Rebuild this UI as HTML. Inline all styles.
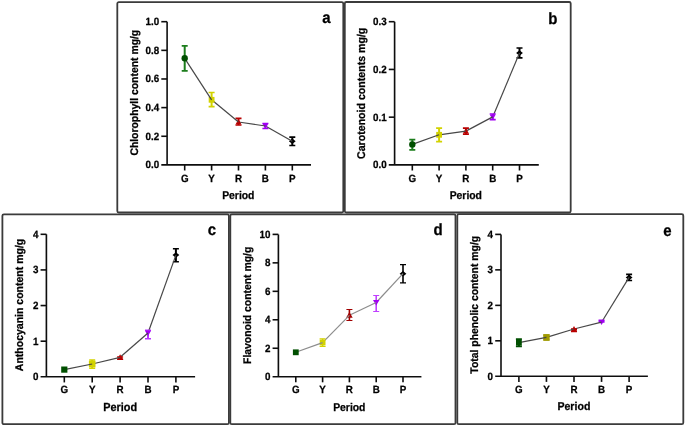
<!DOCTYPE html>
<html><head><meta charset="utf-8"><style>
html,body{margin:0;padding:0;background:#fff;}
svg{display:block;will-change:transform;}
text{font-family:"Liberation Sans", sans-serif;font-weight:bold;fill:#000;text-rendering:geometricPrecision;stroke:#000;stroke-width:0.25px;}
</style></head><body>
<svg width="685" height="427" viewBox="0 0 685 427">
<defs><filter id="bl" filterUnits="userSpaceOnUse" x="0" y="0" width="685" height="427"><feGaussianBlur stdDeviation="0.35"/></filter></defs>
<rect width="685" height="427" fill="#fff"/>
<g filter="url(#bl)">
<rect x="117.3" y="2.2" width="226.0" height="210.3" rx="1.5" fill="none" stroke="#3b3b3b" stroke-width="1.8"/>
<rect x="344.8" y="2.0" width="225.9" height="210.5" rx="1.5" fill="none" stroke="#3b3b3b" stroke-width="1.8"/>
<rect x="2.4" y="214.3" width="226.5" height="209.9" rx="1.5" fill="none" stroke="#3b3b3b" stroke-width="1.8"/>
<rect x="230.3" y="214.3" width="225.2" height="209.9" rx="1.5" fill="none" stroke="#3b3b3b" stroke-width="1.8"/>
<rect x="457.3" y="214.2" width="226.0" height="210.0" rx="1.5" fill="none" stroke="#3b3b3b" stroke-width="1.8"/>
<path d="M167.1 21.7 V164.9 M161.29999999999998 164.9 H311.0" stroke="#111" stroke-width="1.6" fill="none"/>
<text transform="translate(159.1,168.4) scale(1,1.07)" x="0" y="0" font-size="9.8" text-anchor="end" >0.0</text>
<path d="M161.29999999999998 136.26 H167.1" stroke="#111" stroke-width="1.6"/>
<text transform="translate(159.1,139.76) scale(1,1.07)" x="0" y="0" font-size="9.8" text-anchor="end" >0.2</text>
<path d="M161.29999999999998 107.62 H167.1" stroke="#111" stroke-width="1.6"/>
<text transform="translate(159.1,111.12) scale(1,1.07)" x="0" y="0" font-size="9.8" text-anchor="end" >0.4</text>
<path d="M161.29999999999998 78.98 H167.1" stroke="#111" stroke-width="1.6"/>
<text transform="translate(159.1,82.48) scale(1,1.07)" x="0" y="0" font-size="9.8" text-anchor="end" >0.6</text>
<path d="M161.29999999999998 50.33999999999999 H167.1" stroke="#111" stroke-width="1.6"/>
<text transform="translate(159.1,53.83999999999999) scale(1,1.07)" x="0" y="0" font-size="9.8" text-anchor="end" >0.8</text>
<path d="M161.29999999999998 21.69999999999999 H167.1" stroke="#111" stroke-width="1.6"/>
<text transform="translate(159.1,25.19999999999999) scale(1,1.07)" x="0" y="0" font-size="9.8" text-anchor="end" >1.0</text>
<path d="M184.7 164.9 V170.5" stroke="#111" stroke-width="1.6"/>
<text transform="translate(184.7,181.5) scale(1,1.07)" x="0" y="0" font-size="9.8" text-anchor="middle" >G</text>
<path d="M211.6 164.9 V170.5" stroke="#111" stroke-width="1.6"/>
<text transform="translate(211.6,181.5) scale(1,1.07)" x="0" y="0" font-size="9.8" text-anchor="middle" >Y</text>
<path d="M238.5 164.9 V170.5" stroke="#111" stroke-width="1.6"/>
<text transform="translate(238.5,181.5) scale(1,1.07)" x="0" y="0" font-size="9.8" text-anchor="middle" >R</text>
<path d="M265.4 164.9 V170.5" stroke="#111" stroke-width="1.6"/>
<text transform="translate(265.4,181.5) scale(1,1.07)" x="0" y="0" font-size="9.8" text-anchor="middle" >B</text>
<path d="M292.29999999999995 164.9 V170.5" stroke="#111" stroke-width="1.6"/>
<text transform="translate(292.29999999999995,181.5) scale(1,1.07)" x="0" y="0" font-size="9.8" text-anchor="middle" >P</text>
<text transform="translate(238.3,199.2) scale(1,1.07)" x="0" y="0" font-size="10.4" text-anchor="middle" >Period</text>
<text transform="translate(138.0,92.7) rotate(-90) scale(1,1.06)" x="0" y="0" font-size="10.4" text-anchor="middle">Chlorophyll content mg/g</text>
<text transform="translate(326.5,23.3) scale(1,1.08)" x="0" y="0" font-size="15" text-anchor="middle" >a</text>
<path d="M292.29999999999995 137.1 V145.5" stroke="#000000" stroke-width="2.0"/>
<path d="M289.29999999999995 137.1 H295.29999999999995 M289.29999999999995 145.5 H295.29999999999995" stroke="#000000" stroke-width="1.7"/>
<path d="M292.30 138.55 L295.69 141.30 L292.30 144.06 L288.91 141.30Z" fill="#000000"/>
<path d="M265.40 126.0 L292.30 141.3" stroke="#474747" stroke-width="1.2" stroke-linecap="butt"/>
<path d="M265.4 123.5 V128.5" stroke="#a100f2" stroke-width="2.0"/>
<path d="M262.4 123.5 H268.4 M262.4 128.5 H268.4" stroke="#a100f2" stroke-width="1.7"/>
<path d="M265.40 128.81 L268.30 123.80 L262.50 123.80Z" fill="#a100f2"/>
<path d="M238.50 122.0 L265.40 126.0" stroke="#474747" stroke-width="1.2" stroke-linecap="butt"/>
<path d="M238.5 118.4 V125.0" stroke="#b80000" stroke-width="2.0"/>
<path d="M235.5 118.4 H241.5 M235.5 125.0 H241.5" stroke="#b80000" stroke-width="1.7"/>
<path d="M238.50 119.19 L241.40 124.20 L235.60 124.20Z" fill="#b80000"/>
<path d="M211.60 99.8 L238.50 122.0" stroke="#474747" stroke-width="1.2" stroke-linecap="butt"/>
<path d="M211.6 92.5 V106.7" stroke="#d2d200" stroke-width="2.0"/>
<path d="M208.6 92.5 H214.6 M208.6 106.7 H214.6" stroke="#d2d200" stroke-width="1.7"/>
<rect x="208.70" y="96.90" width="5.80" height="5.80" fill="#d2d200"/>
<path d="M184.70 58.3 L211.60 99.8" stroke="#474747" stroke-width="1.2" stroke-linecap="butt"/>
<path d="M184.7 45.9 V70.8" stroke="#1e7d1e" stroke-width="2.0"/>
<path d="M181.7 45.9 H187.7 M181.7 70.8 H187.7" stroke="#1e7d1e" stroke-width="1.7"/>
<circle cx="184.7" cy="58.3" r="3.19" fill="#004f00"/>
<path d="M394.6 21.7 V164.9 M388.8 164.9 H538.8" stroke="#111" stroke-width="1.6" fill="none"/>
<text transform="translate(386.6,168.4) scale(1,1.07)" x="0" y="0" font-size="9.8" text-anchor="end" >0.0</text>
<path d="M388.8 117.16666666666666 H394.6" stroke="#111" stroke-width="1.6"/>
<text transform="translate(386.6,120.66666666666666) scale(1,1.07)" x="0" y="0" font-size="9.8" text-anchor="end" >0.1</text>
<path d="M388.8 69.43333333333332 H394.6" stroke="#111" stroke-width="1.6"/>
<text transform="translate(386.6,72.93333333333332) scale(1,1.07)" x="0" y="0" font-size="9.8" text-anchor="end" >0.2</text>
<path d="M388.8 21.69999999999999 H394.6" stroke="#111" stroke-width="1.6"/>
<text transform="translate(386.6,25.19999999999999) scale(1,1.07)" x="0" y="0" font-size="9.8" text-anchor="end" >0.3</text>
<path d="M412.3 164.9 V170.5" stroke="#111" stroke-width="1.6"/>
<text transform="translate(412.3,181.5) scale(1,1.07)" x="0" y="0" font-size="9.8" text-anchor="middle" >G</text>
<path d="M439.1 164.9 V170.5" stroke="#111" stroke-width="1.6"/>
<text transform="translate(439.1,181.5) scale(1,1.07)" x="0" y="0" font-size="9.8" text-anchor="middle" >Y</text>
<path d="M465.90000000000003 164.9 V170.5" stroke="#111" stroke-width="1.6"/>
<text transform="translate(465.90000000000003,181.5) scale(1,1.07)" x="0" y="0" font-size="9.8" text-anchor="middle" >R</text>
<path d="M492.70000000000005 164.9 V170.5" stroke="#111" stroke-width="1.6"/>
<text transform="translate(492.70000000000005,181.5) scale(1,1.07)" x="0" y="0" font-size="9.8" text-anchor="middle" >B</text>
<path d="M519.5 164.9 V170.5" stroke="#111" stroke-width="1.6"/>
<text transform="translate(519.5,181.5) scale(1,1.07)" x="0" y="0" font-size="9.8" text-anchor="middle" >P</text>
<text transform="translate(465.8,199.2) scale(1,1.07)" x="0" y="0" font-size="10.4" text-anchor="middle" >Period</text>
<text transform="translate(364.8,93.3) rotate(-90) scale(1,1.06)" x="0" y="0" font-size="10.6" text-anchor="middle">Carotenoid contents mg/g</text>
<text transform="translate(552.8,23.6) scale(1,1.08)" x="0" y="0" font-size="15" text-anchor="middle" >b</text>
<path d="M519.5 48.0 V57.8" stroke="#000000" stroke-width="2.0"/>
<path d="M516.5 48.0 H522.5 M516.5 57.8 H522.5" stroke="#000000" stroke-width="1.7"/>
<path d="M519.50 50.34 L522.89 53.10 L519.50 55.86 L516.11 53.10Z" fill="#000000"/>
<path d="M492.70 116.9 L519.50 53.1" stroke="#474747" stroke-width="1.2" stroke-linecap="butt"/>
<path d="M492.70000000000005 114.0 V119.6" stroke="#a100f2" stroke-width="2.0"/>
<path d="M489.70000000000005 114.0 H495.70000000000005 M489.70000000000005 119.6 H495.70000000000005" stroke="#a100f2" stroke-width="1.7"/>
<path d="M492.70 119.71 L495.60 114.70 L489.80 114.70Z" fill="#a100f2"/>
<path d="M465.90 131.1 L492.70 116.9" stroke="#474747" stroke-width="1.2" stroke-linecap="butt"/>
<path d="M465.90000000000003 128.2 V134.1" stroke="#b80000" stroke-width="2.0"/>
<path d="M462.90000000000003 128.2 H468.90000000000003 M462.90000000000003 134.1 H468.90000000000003" stroke="#b80000" stroke-width="1.7"/>
<path d="M465.90 128.29 L468.80 133.30 L463.00 133.30Z" fill="#b80000"/>
<path d="M439.10 134.8 L465.90 131.1" stroke="#474747" stroke-width="1.2" stroke-linecap="butt"/>
<path d="M439.1 128.2 V141.7" stroke="#d2d200" stroke-width="2.0"/>
<path d="M436.1 128.2 H442.1 M436.1 141.7 H442.1" stroke="#d2d200" stroke-width="1.7"/>
<rect x="436.20" y="131.90" width="5.80" height="5.80" fill="#d2d200"/>
<path d="M412.30 144.4 L439.10 134.8" stroke="#474747" stroke-width="1.2" stroke-linecap="butt"/>
<path d="M412.3 139.7 V149.9" stroke="#1e7d1e" stroke-width="2.0"/>
<path d="M409.3 139.7 H415.3 M409.3 149.9 H415.3" stroke="#1e7d1e" stroke-width="1.7"/>
<circle cx="412.3" cy="144.4" r="3.19" fill="#004f00"/>
<path d="M46.4 234.3 V376.8 M40.6 376.8 H195.1" stroke="#111" stroke-width="1.6" fill="none"/>
<text transform="translate(38.4,380.3) scale(1,1.07)" x="0" y="0" font-size="9.8" text-anchor="end" >0</text>
<path d="M40.6 341.175 H46.4" stroke="#111" stroke-width="1.6"/>
<text transform="translate(38.4,344.675) scale(1,1.07)" x="0" y="0" font-size="9.8" text-anchor="end" >1</text>
<path d="M40.6 305.55 H46.4" stroke="#111" stroke-width="1.6"/>
<text transform="translate(38.4,309.05) scale(1,1.07)" x="0" y="0" font-size="9.8" text-anchor="end" >2</text>
<path d="M40.6 269.925 H46.4" stroke="#111" stroke-width="1.6"/>
<text transform="translate(38.4,273.425) scale(1,1.07)" x="0" y="0" font-size="9.8" text-anchor="end" >3</text>
<path d="M40.6 234.3 H46.4" stroke="#111" stroke-width="1.6"/>
<text transform="translate(38.4,237.8) scale(1,1.07)" x="0" y="0" font-size="9.8" text-anchor="end" >4</text>
<path d="M64.3 376.8 V382.40000000000003" stroke="#111" stroke-width="1.6"/>
<text transform="translate(64.3,393.40000000000003) scale(1,1.07)" x="0" y="0" font-size="9.8" text-anchor="middle" >G</text>
<path d="M92.19999999999999 376.8 V382.40000000000003" stroke="#111" stroke-width="1.6"/>
<text transform="translate(92.19999999999999,393.40000000000003) scale(1,1.07)" x="0" y="0" font-size="9.8" text-anchor="middle" >Y</text>
<path d="M120.1 376.8 V382.40000000000003" stroke="#111" stroke-width="1.6"/>
<text transform="translate(120.1,393.40000000000003) scale(1,1.07)" x="0" y="0" font-size="9.8" text-anchor="middle" >R</text>
<path d="M148.0 376.8 V382.40000000000003" stroke="#111" stroke-width="1.6"/>
<text transform="translate(148.0,393.40000000000003) scale(1,1.07)" x="0" y="0" font-size="9.8" text-anchor="middle" >B</text>
<path d="M175.89999999999998 376.8 V382.40000000000003" stroke="#111" stroke-width="1.6"/>
<text transform="translate(175.89999999999998,393.40000000000003) scale(1,1.07)" x="0" y="0" font-size="9.8" text-anchor="middle" >P</text>
<text transform="translate(120.2,410.8) scale(1,1.07)" x="0" y="0" font-size="10.9" text-anchor="middle" >Period</text>
<text transform="translate(23.1,304.95) rotate(-90) scale(1,1.06)" x="0" y="0" font-size="10.5" text-anchor="middle">Anthocyanin content mg/g</text>
<text transform="translate(211.9,234.6) scale(1,1.08)" x="0" y="0" font-size="15" text-anchor="middle" >c</text>
<path d="M175.89999999999998 248.8 V261.8" stroke="#000000" stroke-width="2.0"/>
<path d="M172.89999999999998 248.8 H178.89999999999998 M172.89999999999998 261.8 H178.89999999999998" stroke="#000000" stroke-width="1.4"/>
<path d="M175.90 252.34 L179.29 255.10 L175.90 257.86 L172.51 255.10Z" fill="#000000"/>
<path d="M148.00 333.0 L175.90 255.1" stroke="#474747" stroke-width="1.2" stroke-linecap="butt"/>
<path d="M148.0 330.2 V338.7" stroke="#b838ff" stroke-width="2.0"/>
<path d="M145.0 330.2 H151.0 M145.0 338.7 H151.0" stroke="#b838ff" stroke-width="1.4"/>
<path d="M148.00 336.10 L151.20 330.57 L144.80 330.57Z" fill="#a100f2"/>
<path d="M120.10 357.3 L148.00 333.0" stroke="#474747" stroke-width="1.2" stroke-linecap="butt"/>
<path d="M120.1 357.0 V359.3" stroke="#b80000" stroke-width="2.0"/>
<path d="M117.1 357.0 H123.1 M117.1 359.3 H123.1" stroke="#b80000" stroke-width="1.4"/>
<path d="M120.10 354.20 L123.30 359.73 L116.90 359.73Z" fill="#b80000"/>
<path d="M92.20 364.0 L120.10 357.3" stroke="#474747" stroke-width="1.2" stroke-linecap="butt"/>
<path d="M92.19999999999999 360.0 V368.2" stroke="#d2d200" stroke-width="2.0"/>
<path d="M89.19999999999999 360.0 H95.19999999999999 M89.19999999999999 368.2 H95.19999999999999" stroke="#d2d200" stroke-width="1.4"/>
<rect x="88.90" y="360.70" width="6.60" height="6.60" fill="#d2d200"/>
<path d="M64.30 369.6 L92.20 364.0" stroke="#474747" stroke-width="1.2" stroke-linecap="butt"/>
<rect x="61.20" y="366.50" width="6.20" height="6.20" fill="#004f00"/>
<path d="M278.4 234.4 V376.7 M272.59999999999997 376.7 H421.4" stroke="#111" stroke-width="1.6" fill="none"/>
<text transform="translate(270.4,380.2) scale(1,1.07)" x="0" y="0" font-size="9.8" text-anchor="end" >0</text>
<path d="M272.59999999999997 348.24 H278.4" stroke="#111" stroke-width="1.6"/>
<text transform="translate(270.4,351.74) scale(1,1.07)" x="0" y="0" font-size="9.8" text-anchor="end" >2</text>
<path d="M272.59999999999997 319.78 H278.4" stroke="#111" stroke-width="1.6"/>
<text transform="translate(270.4,323.28) scale(1,1.07)" x="0" y="0" font-size="9.8" text-anchor="end" >4</text>
<path d="M272.59999999999997 291.32 H278.4" stroke="#111" stroke-width="1.6"/>
<text transform="translate(270.4,294.82) scale(1,1.07)" x="0" y="0" font-size="9.8" text-anchor="end" >6</text>
<path d="M272.59999999999997 262.86 H278.4" stroke="#111" stroke-width="1.6"/>
<text transform="translate(270.4,266.36) scale(1,1.07)" x="0" y="0" font-size="9.8" text-anchor="end" >8</text>
<path d="M272.59999999999997 234.4 H278.4" stroke="#111" stroke-width="1.6"/>
<text transform="translate(270.4,237.9) scale(1,1.07)" x="0" y="0" font-size="9.8" text-anchor="end" >10</text>
<path d="M295.8 376.7 V382.3" stroke="#111" stroke-width="1.6"/>
<text transform="translate(295.8,393.3) scale(1,1.07)" x="0" y="0" font-size="9.8" text-anchor="middle" >G</text>
<path d="M322.6 376.7 V382.3" stroke="#111" stroke-width="1.6"/>
<text transform="translate(322.6,393.3) scale(1,1.07)" x="0" y="0" font-size="9.8" text-anchor="middle" >Y</text>
<path d="M349.40000000000003 376.7 V382.3" stroke="#111" stroke-width="1.6"/>
<text transform="translate(349.40000000000003,393.3) scale(1,1.07)" x="0" y="0" font-size="9.8" text-anchor="middle" >R</text>
<path d="M376.20000000000005 376.7 V382.3" stroke="#111" stroke-width="1.6"/>
<text transform="translate(376.20000000000005,393.3) scale(1,1.07)" x="0" y="0" font-size="9.8" text-anchor="middle" >B</text>
<path d="M403.0 376.7 V382.3" stroke="#111" stroke-width="1.6"/>
<text transform="translate(403.0,393.3) scale(1,1.07)" x="0" y="0" font-size="9.8" text-anchor="middle" >P</text>
<text transform="translate(349.3,411.0) scale(1,1.07)" x="0" y="0" font-size="10.4" text-anchor="middle" >Period</text>
<text transform="translate(250.7,305.35) rotate(-90) scale(1,1.06)" x="0" y="0" font-size="10.4" text-anchor="middle">Flavonoid content mg/g</text>
<text transform="translate(438.2,234.8) scale(1,1.08)" x="0" y="0" font-size="15" text-anchor="middle" >d</text>
<path d="M403.0 264.7 V282.9" stroke="#000000" stroke-width="1.6"/>
<path d="M400.0 264.7 H406.0 M400.0 282.9 H406.0" stroke="#000000" stroke-width="1.2"/>
<path d="M403.00 270.94 L406.39 273.70 L403.00 276.45 L399.61 273.70Z" fill="#000000"/>
<path d="M376.20 302.5 L403.00 273.7" stroke="#8c8c8c" stroke-width="1.2" stroke-linecap="butt"/>
<path d="M376.20000000000005 295.5 V311.5" stroke="#c040ff" stroke-width="1.6"/>
<path d="M373.20000000000005 295.5 H379.20000000000005 M373.20000000000005 311.5 H379.20000000000005" stroke="#c040ff" stroke-width="1.2"/>
<path d="M376.20 305.60 L379.40 300.07 L373.00 300.07Z" fill="#a100f2"/>
<path d="M349.40 315.3 L376.20 302.5" stroke="#8c8c8c" stroke-width="1.2" stroke-linecap="butt"/>
<path d="M349.40000000000003 309.5 V320.5" stroke="#a00000" stroke-width="1.6"/>
<path d="M346.40000000000003 309.5 H352.40000000000003 M346.40000000000003 320.5 H352.40000000000003" stroke="#a00000" stroke-width="1.2"/>
<path d="M349.40 312.10 L352.70 317.81 L346.10 317.81Z" fill="#a00000"/>
<path d="M322.60 342.6 L349.40 315.3" stroke="#8c8c8c" stroke-width="1.2" stroke-linecap="butt"/>
<path d="M322.6 338.8 V346.5" stroke="#d2d200" stroke-width="1.6"/>
<path d="M319.6 338.8 H325.6 M319.6 346.5 H325.6" stroke="#d2d200" stroke-width="1.2"/>
<rect x="319.70" y="339.70" width="5.80" height="5.80" fill="#d2d200"/>
<path d="M295.80 352.3 L322.60 342.6" stroke="#8c8c8c" stroke-width="1.2" stroke-linecap="butt"/>
<rect x="292.90" y="349.40" width="5.80" height="5.80" fill="#004f00"/>
<path d="M501.0 234.4 V376.3 M495.2 376.3 H647.9" stroke="#111" stroke-width="1.6" fill="none"/>
<text transform="translate(493.0,379.8) scale(1,1.07)" x="0" y="0" font-size="9.8" text-anchor="end" >0</text>
<path d="M495.2 340.825 H501.0" stroke="#111" stroke-width="1.6"/>
<text transform="translate(493.0,344.325) scale(1,1.07)" x="0" y="0" font-size="9.8" text-anchor="end" >1</text>
<path d="M495.2 305.35 H501.0" stroke="#111" stroke-width="1.6"/>
<text transform="translate(493.0,308.85) scale(1,1.07)" x="0" y="0" font-size="9.8" text-anchor="end" >2</text>
<path d="M495.2 269.875 H501.0" stroke="#111" stroke-width="1.6"/>
<text transform="translate(493.0,273.375) scale(1,1.07)" x="0" y="0" font-size="9.8" text-anchor="end" >3</text>
<path d="M495.2 234.4 H501.0" stroke="#111" stroke-width="1.6"/>
<text transform="translate(493.0,237.9) scale(1,1.07)" x="0" y="0" font-size="9.8" text-anchor="end" >4</text>
<path d="M518.9 376.3 V381.90000000000003" stroke="#111" stroke-width="1.6"/>
<text transform="translate(518.9,392.90000000000003) scale(1,1.07)" x="0" y="0" font-size="9.8" text-anchor="middle" >G</text>
<path d="M546.4499999999999 376.3 V381.90000000000003" stroke="#111" stroke-width="1.6"/>
<text transform="translate(546.4499999999999,392.90000000000003) scale(1,1.07)" x="0" y="0" font-size="9.8" text-anchor="middle" >Y</text>
<path d="M574.0 376.3 V381.90000000000003" stroke="#111" stroke-width="1.6"/>
<text transform="translate(574.0,392.90000000000003) scale(1,1.07)" x="0" y="0" font-size="9.8" text-anchor="middle" >R</text>
<path d="M601.55 376.3 V381.90000000000003" stroke="#111" stroke-width="1.6"/>
<text transform="translate(601.55,392.90000000000003) scale(1,1.07)" x="0" y="0" font-size="9.8" text-anchor="middle" >B</text>
<path d="M629.1 376.3 V381.90000000000003" stroke="#111" stroke-width="1.6"/>
<text transform="translate(629.1,392.90000000000003) scale(1,1.07)" x="0" y="0" font-size="9.8" text-anchor="middle" >P</text>
<text transform="translate(573.9,410.3) scale(1,1.07)" x="0" y="0" font-size="10.6" text-anchor="middle" >Period</text>
<text transform="translate(478.0,304.75) rotate(-90) scale(1,1.06)" x="0" y="0" font-size="10.4" text-anchor="middle">Total phenolic content mg/g</text>
<text transform="translate(667.3,235.8) scale(1,1.08)" x="0" y="0" font-size="15" text-anchor="middle" >e</text>
<path d="M629.1 274.4 V280.5" stroke="#000000" stroke-width="2.0"/>
<path d="M626.1 274.4 H632.1 M626.1 280.5 H632.1" stroke="#000000" stroke-width="1.7"/>
<path d="M629.10 274.64 L632.49 277.40 L629.10 280.15 L625.71 277.40Z" fill="#000000"/>
<path d="M601.55 322.2 L629.10 277.4" stroke="#474747" stroke-width="1.2" stroke-linecap="butt"/>
<path d="M601.55 320.4 V321.9" stroke="#a100f2" stroke-width="2.0"/>
<path d="M598.55 320.4 H604.55 M598.55 321.9 H604.55" stroke="#a100f2" stroke-width="1.7"/>
<path d="M601.55 325.01 L604.45 320.00 L598.65 320.00Z" fill="#a100f2"/>
<path d="M574.00 329.0 L601.55 322.2" stroke="#474747" stroke-width="1.2" stroke-linecap="butt"/>
<path d="M574.0 329.2 V331.4" stroke="#b80000" stroke-width="2.0"/>
<path d="M571.0 329.2 H577.0 M571.0 331.4 H577.0" stroke="#b80000" stroke-width="1.7"/>
<path d="M574.00 325.90 L577.20 331.43 L570.80 331.43Z" fill="#b80000"/>
<path d="M546.45 337.4 L574.00 329.0" stroke="#474747" stroke-width="1.2" stroke-linecap="butt"/>
<path d="M546.4499999999999 335.0 V340.0" stroke="#a09a00" stroke-width="2.0"/>
<path d="M543.4499999999999 335.0 H549.4499999999999 M543.4499999999999 340.0 H549.4499999999999" stroke="#a09a00" stroke-width="1.7"/>
<rect x="543.25" y="334.20" width="6.40" height="6.40" fill="#a09a00"/>
<path d="M518.90 342.7 L546.45 337.4" stroke="#474747" stroke-width="1.2" stroke-linecap="butt"/>
<path d="M518.9 339.2 V346.3" stroke="#004f00" stroke-width="2.0"/>
<path d="M515.9 339.2 H521.9 M515.9 346.3 H521.9" stroke="#004f00" stroke-width="1.7"/>
<rect x="516.00" y="339.80" width="5.80" height="5.80" fill="#004f00"/>
</g>
</svg>
</body></html>
